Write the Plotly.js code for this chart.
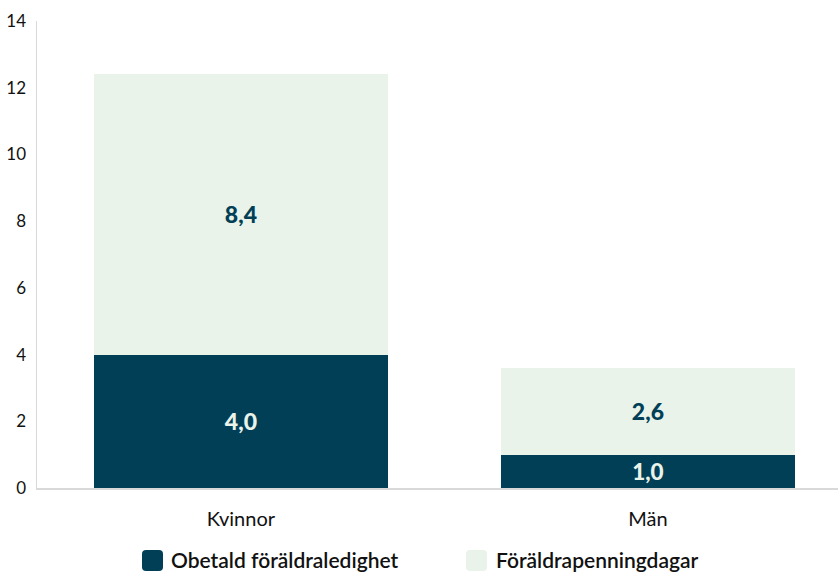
<!DOCTYPE html>
<html>
<head>
<meta charset="utf-8">
<script src="https://cdn.plot.ly/plotly-3.0.1.min.js"></script>
<style>html,body{margin:0;padding:0;background:#fff}#chart{width:839px;height:572px}</style>
</head>
<body>
<div id="chart"></div>
<script>
const categories = ["Kvinnor", "Män"];
const seriesNames = ["Obetald föräldraledighet", "Föräldrapenningdagar"];
const obetald = [4.0, 1.0];
const foraldrapenning = [8.4, 2.6];
const yTicks = [0, 2, 4, 6, 8, 10, 12, 14];

const darkC = "#003f56";
const lightC = "#e9f3ea";

const traces = [
  {type: "bar", name: seriesNames[0], x: categories, y: obetald,
   marker: {color: darkC}, texttemplate: "%{y:.1f}", textposition: "inside",
   insidetextanchor: "middle",
   textfont: {family: "Lato, sans-serif", size: 23, color: "#eaf3ea", weight: 900},
   hoverinfo: "none", showlegend: false},
  {type: "bar", name: seriesNames[1], x: categories, y: foraldrapenning,
   marker: {color: lightC}, texttemplate: "%{y:.1f}", textposition: "inside",
   insidetextanchor: "middle",
   textfont: {family: "Lato, sans-serif", size: 23, color: darkC, weight: 900},
   hoverinfo: "none", showlegend: false}
];

// custom legend (large rounded swatches)
const legendItems = [
  {x0: 142, tx: 170, color: darkC, name: seriesNames[0]},
  {x0: 466, tx: 495, color: lightC, name: seriesNames[1]}
];
const W = 839, H = 572;
const margin = {l: 37, r: 1, t: 21, b: 84};
const pw = W - margin.l - margin.r, ph = H - margin.t - margin.b;
const toPX = px => (px - margin.l) / pw;
const toPY = py => (H - margin.b - py) / ph;

const shapes = [];
const annotations = [];
legendItems.forEach(it => {
  const x = it.x0, y = 550, w = 21, h = 21, r = 4;
  const X = toPX, Y = toPY;
  shapes.push({type: "path", xref: "paper", yref: "paper", layer: "above",
    path: `M${X(x+r)},${Y(y)} L${X(x+w-r)},${Y(y)} Q${X(x+w)},${Y(y)} ${X(x+w)},${Y(y+r)} L${X(x+w)},${Y(y+h-r)} Q${X(x+w)},${Y(y+h)} ${X(x+w-r)},${Y(y+h)} L${X(x+r)},${Y(y+h)} Q${X(x)},${Y(y+h)} ${X(x)},${Y(y+h-r)} L${X(x)},${Y(y+r)} Q${X(x)},${Y(y)} ${X(x+r)},${Y(y)} Z`,
    fillcolor: it.color, line: {width: 0}});
  annotations.push({xref: "paper", yref: "paper", x: toPX(it.tx), y: toPY(559), text: it.name,
    showarrow: false, xanchor: "left", yanchor: "middle", borderpad: 0,
    font: {family: "Lato, sans-serif", size: 21, color: "#111", weight: 600}});
});

const layout = {
  width: W, height: H, margin: margin,
  barmode: "stack", bargap: 0.278,
  separators: ", ",
  paper_bgcolor: "#fff", plot_bgcolor: "#fff",
  font: {family: "Lato, sans-serif", color: "#111"},
  xaxis: {type: "category", range: [-0.501, 1.467], showline: true, linecolor: "#d9d9d9", linewidth: 1.5,
    ticks: "", tickfont: {size: 20, color: "#111"}, ticklabelstandoff: 12,
    showgrid: false, zeroline: false},
  yaxis: {range: [0, 14], tickvals: yTicks, ticktext: yTicks.map(String),
    showline: true, linecolor: "#d9d9d9", linewidth: 1.5, ticks: "",
    tickfont: {size: 17, color: "#111"}, ticklabelstandoff: 6,
    showgrid: false, zeroline: false},
  shapes: shapes, annotations: annotations,
  showlegend: false
};
Plotly.newPlot("chart", traces, layout, {displayModeBar: false, staticPlot: true});
</script>
</body>
</html>
